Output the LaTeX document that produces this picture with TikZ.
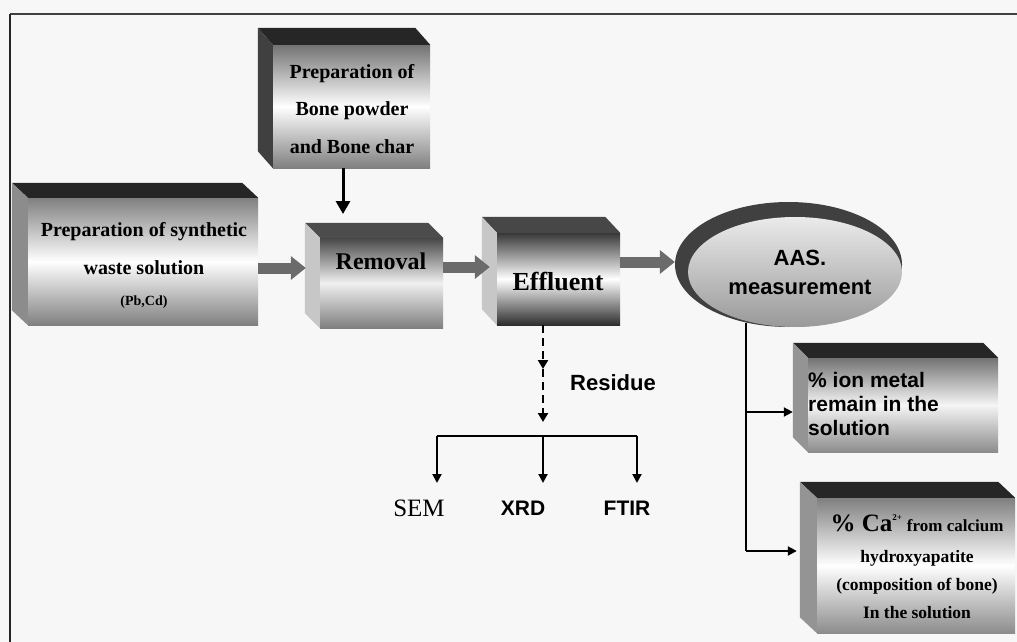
\documentclass[tikz,border=0pt]{standalone}
\usepackage{fontspec}
\setmainfont{Liberation Serif}
\newfontfamily\arialf{Liberation Sans}
\usetikzlibrary{arrows.meta,calc,shapes.geometric}
\newcommand\boxfaces[5]{%
  \fill[#4] (#1.north west) -- ++(-#2,-#3) -- ($(#1.north east)+(-#2,-#3)$) -- (#1.north east) -- cycle;
  \fill[#5] (#1.north west) -- ++(-#2,-#3) -- ($(#1.south west)+(-#2,-#3)$) -- (#1.south west) -- cycle;
}
\begin{document}
\begin{tikzpicture}[x=1pt,y=-1pt,
  front/.style={inner sep=0pt, draw=none},
  lbl/.style={inner sep=0pt, align=center, font=\bfseries\fontsize{20}{37.5}\selectfont},
  albl/.style={inner sep=0pt, align=center, font=\arialf\bfseries\fontsize{21}{24}\selectfont},
  blockarrow/.style={line width=11pt, draw=black!58, -{Triangle[length=15pt,width=23pt]}},
  thinarrow/.style={line width=2pt, -{Triangle[length=9pt,width=9pt]}},
  bigarrow/.style={line width=3pt, -{Triangle[length=13pt,width=14pt]}},
  dasharrow/.style={line width=2.5pt, dash pattern=on 8pt off 5pt, -{Triangle[length=9pt,width=10pt]}},
]
\useasboundingbox (0,0) rectangle (1017,642);
\fill[black!3] (0,0) rectangle (1017,642);
% frame
\draw[line width=1.5pt, black!75] (1020,14) -- (10,14);
\draw[line width=2.5pt, black!85] (10,14) -- (10,645);

% bone box
\node[front, minimum width=157pt, minimum height=123pt, top color=black!55, bottom color=black!50, middle color=white] (bone) at (351.5,106.5) {};
\boxfaces{bone}{15}{17}{black!85}{black!75}
\node[lbl] (bone-t) at (352,109) {Preparation of\\Bone powder\\and Bone char};

% synthetic box
\node[front, minimum width=230pt, minimum height=127pt, top color=black!50, bottom color=black!50, middle color=white] (synth) at (143,261.5) {};
\boxfaces{synth}{16}{15}{black!85}{black!45}
\node[lbl, font=\bfseries\fontsize{20}{38}\selectfont] (synth-t) at (144,249) {Preparation of synthetic\\waste solution};
\node[lbl, font=\bfseries\fontsize{14}{16}\selectfont] (synth-p) at (144,302) {(Pb,Cd)};

% removal box
\node[front, minimum width=123pt, minimum height=90pt, top color=black!72, bottom color=black!50, middle color=black!6] (rem) at (381.5,283) {};
\boxfaces{rem}{15}{15}{black!70}{black!22}
\node[lbl, font=\bfseries\fontsize{24}{28}\selectfont] (rem-t) at (381,261) {Removal};

% effluent box
\node[front, minimum width=123pt, minimum height=92pt, top color=black!78, bottom color=black!82, middle color=white] (eff) at (558.5,279) {};
\boxfaces{eff}{15}{16}{black!72}{black!22}
\node[lbl, font=\bfseries\fontsize{26}{30}\selectfont] (eff-t) at (558,282) {Effluent};

% AAS ellipse
\node[ellipse, minimum width=227pt, minimum height=125pt, fill=black!75, inner sep=0pt] (aas) at (788.5,264.5) {};
\shade[top color=black!8, bottom color=black!40] (795,272) ellipse [x radius=107pt, y radius=55pt];
\node[albl, font=\arialf\bfseries\fontsize{22}{29}\selectfont] (aas-t) at (800,272) {AAS.\\measurement};

% ion box
\node[front, minimum width=190pt, minimum height=94pt, top color=black!55, bottom color=black!45, middle color=black!4] (ion) at (903,405) {};
\boxfaces{ion}{15}{15}{black!85}{black!42}
\node[albl, align=left, anchor=west] (ion-t) at (808,404) {\% ion metal\\remain in the\\solution};

% Ca box
\node[front, minimum width=198pt, minimum height=135pt, top color=black!50, bottom color=black!45, middle color=white] (ca) at (916,565.5) {};
\boxfaces{ca}{17}{16}{black!85}{black!42}
\node[lbl] (ca-t1) at (917,523) {{\fontsize{25}{28}\selectfont\% Ca}\raisebox{1.2ex}{\fontsize{9}{10}\selectfont 2+} {\fontsize{17}{20}\selectfont from calcium}};
\node[lbl, font=\bfseries\fontsize{17.5}{28}\selectfont] (ca-t2) at (917,585) {hydroxyapatite\\(composition of bone)\\In the solution};

% block arrows
\draw[blockarrow] ([yshift=-6.5pt]synth.east) -- ([xshift=-14pt,yshift=15pt]rem.west);
\draw[blockarrow] ([yshift=16pt]rem.east) -- ([xshift=-7pt,yshift=12pt]eff.west);
\draw[blockarrow] ([yshift=17pt]eff.east) -- ([yshift=2.5pt]aas.west);

% bone -> removal
\coordinate (bonein) at (343,214);
\draw[bigarrow] ([xshift=-8.5pt]bone.south) -- (bonein);

% residue
\coordinate (rmid) at (543,369);
\coordinate (rbot) at (543,422);
\draw[dasharrow] ([xshift=-15.5pt]eff.south) -- (rmid);
\draw[dasharrow] (rmid) -- (rbot);
\node[albl, font=\arialf\bfseries\fontsize{22}{26}\selectfont] (res) at (613,383) {Residue};

\coordinate (bl) at (437,436);
\coordinate (bm) at (543,436);
\coordinate (br) at (637,436);
\draw[line width=2pt] (bl) -- (br);
\draw[thinarrow] (bl) -- ++(0,47);
\draw[thinarrow] (bm) -- ++(0,47);
\draw[thinarrow] (br) -- ++(0,47);
\node[inner sep=0pt, font=\fontsize{25}{28}\selectfont] (sem) at (419,508) {SEM};
\node[albl] (xrd) at (523,508) {XRD};
\node[albl] (ftir) at (627,508) {FTIR};

% AAS outputs
\coordinate (aasb) at (746,323);
\coordinate (j2) at (746,551);
\draw[line width=2pt] (aasb) -- (j2);
\draw[thinarrow] (aasb |- 0,412) -- ([xshift=-15pt,yshift=-7pt]ion.west);
\draw[thinarrow] (j2) -- ([xshift=-20pt,yshift=14.5pt]ca.west);
\end{tikzpicture}
\end{document}
